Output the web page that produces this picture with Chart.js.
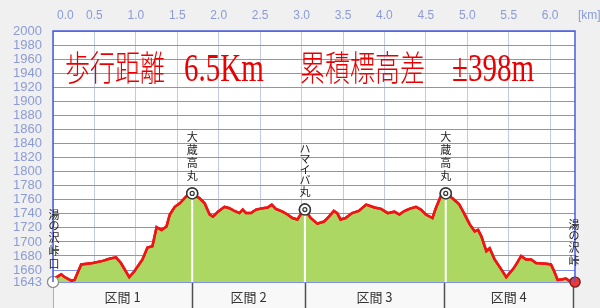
<!DOCTYPE html>
<html>
<head>
<meta charset="utf-8">
<script src="https://cdn.jsdelivr.net/npm/chart.js@4.4.0/dist/chart.umd.min.js"></script>
<style>
    html, body { margin: 0; padding: 0; background: #f0f0f0; }
    #wrap { width: 600px; height: 308px; }
</style>
</head>
<body>
<div id="wrap"><canvas id="profile" width="600" height="308"></canvas></div>
<script>
// elevation profile (km, m)
const distKm = [0.00, 0.06, 0.10, 0.14, 0.22, 0.26, 0.34, 0.48, 0.60, 0.68, 0.76, 0.82, 0.92, 0.98,
    1.08, 1.14, 1.20, 1.25, 1.31, 1.37, 1.41, 1.47, 1.53, 1.61, 1.68, 1.77, 1.83, 1.89, 1.93, 1.99,
    2.07, 2.13, 2.19, 2.25, 2.29, 2.33, 2.39, 2.45, 2.53, 2.59, 2.64, 2.69, 2.77, 2.83, 2.89, 2.95,
    3.01, 3.04, 3.11, 3.19, 3.27, 3.33, 3.39, 3.43, 3.47, 3.53, 3.61, 3.69, 3.78, 3.88, 3.96,
    4.04, 4.12, 4.18, 4.24, 4.30, 4.38, 4.44, 4.50, 4.58, 4.62, 4.68, 4.74, 4.82, 4.90, 4.96,
    5.03, 5.09, 5.13, 5.17, 5.23, 5.27, 5.33, 5.41, 5.47, 5.55, 5.59, 5.65, 5.71, 5.77, 5.83, 5.95,
    6.01, 6.05, 6.09, 6.15, 6.19, 6.24, 6.30];
const elevM = [1647, 1651, 1654, 1650, 1645, 1646, 1668, 1670, 1673, 1676, 1678, 1670, 1650, 1658,
    1675, 1692, 1694, 1721, 1717, 1722, 1739, 1750, 1755, 1765, 1769, 1762, 1755, 1739, 1736, 1743,
    1750, 1748, 1744, 1741, 1746, 1741, 1741, 1746, 1748, 1749, 1753, 1747, 1743, 1739, 1734, 1732,
    1743, 1746, 1734, 1726, 1729, 1736, 1744, 1741, 1732, 1734, 1741, 1744, 1753, 1749, 1747,
    1741, 1743, 1739, 1744, 1747, 1750, 1746, 1739, 1734, 1748, 1765, 1769, 1762, 1754, 1741,
    1725, 1715, 1717, 1708, 1687, 1691, 1675, 1661, 1650, 1661, 1668, 1680, 1675, 1675, 1670, 1669,
    1668, 1658, 1646, 1647, 1648, 1644, 1644];

const xTickKm = [0, 0.5, 1, 1.5, 2, 2.5, 3, 3.5, 4, 4.5, 5, 5.5, 6];
const xTickLabels = ['0.0', '0.5', '1.0', '1.5', '2.0', '2.5', '3.0', '3.5', '4.0', '4.5', '5.0', '5.5', '6.0'];
const yTickM = [1643, 1660, 1680, 1700, 1720, 1740, 1760, 1780, 1800, 1820, 1840, 1860, 1880,
    1900, 1920, 1940, 1960, 1980, 2000];

// summits along the route
const peakKm = [1.68, 3.04, 4.74];
const peakElev = [1769, 1746, 1769];
const peakNames = ['大蔵高丸', 'ハマイバ丸', '大蔵高丸'];

// start / goal
const endKm = [0, 6.3];
const endElev = [1643, 1643];
const endNames = ['湯の沢峠口', '湯の沢峠'];

const sectionEdgesKm = [0, 1.68, 3.04, 4.72, 6.28];
const sectionLabels = ['区間 1', '区間 2', '区間 3', '区間 4'];

const titleParts = ['歩行距離', '6.5Km', '累積標高差', '±398m'];

const BASE = yTickM[0];
const CJK = '"Noto Sans CJK JP", "Noto Sans CJK SC", sans-serif';

const decor = {
    id: 'decor',
    beforeDraw(chart) {
        const { ctx, chartArea: a, scales: { x } } = chart;
        ctx.save();
        ctx.fillStyle = '#f0f0f0';
        ctx.fillRect(0, 0, chart.width, chart.height);
        ctx.fillStyle = '#ffffff';
        ctx.fillRect(a.left, a.top, a.right - a.left, a.bottom - a.top);

        // section bar under the plot
        const barTop = a.bottom, barBottom = chart.height;
        ctx.fillStyle = '#f8f8f8';
        ctx.fillRect(a.left, barTop, a.right - a.left, barBottom - barTop);
        ctx.strokeStyle = '#9a9a9a';
        ctx.lineWidth = 1;
        ctx.beginPath();
        ctx.moveTo(a.left, barTop + 0.5);
        ctx.lineTo(a.right, barTop + 0.5);
        ctx.stroke();
        sectionEdgesKm.forEach((km, i) => {
            const px = Math.round(x.getPixelForValue(km)) + 0.5;
            ctx.strokeStyle = (i === 0) ? '#b0b0b0' : '#505050';
            ctx.lineWidth = (i === 0) ? 1 : 1.5;
            ctx.beginPath();
            ctx.moveTo(px, barTop);
            ctx.lineTo(px, barBottom);
            ctx.stroke();
        });
        ctx.fillStyle = '#333';
        ctx.font = '13px ' + CJK;
        ctx.textAlign = 'center';
        ctx.textBaseline = 'middle';
        sectionLabels.forEach((t, i) => {
            const mid = (x.getPixelForValue(sectionEdgesKm[i]) + x.getPixelForValue(sectionEdgesKm[i + 1])) / 2;
            ctx.fillText(t, mid, barTop + 15);
        });
        ctx.restore();
    },
    afterDraw(chart) {
        const { ctx, chartArea: a, scales: { x, y } } = chart;

        // grid is drawn over the fill (z:1), so put line + markers back on top
        const order = [];
        chart.data.datasets.forEach((ds, i) => { if (ds.label === 'stem') order.push(i); });
        order.push(0);
        chart.data.datasets.forEach((ds, i) => { if (ds.label !== 'stem' && i !== 0) order.push(i); });
        order.forEach(i => chart.getDatasetMeta(i).controller.draw());

        ctx.save();
        // plot frame
        ctx.strokeStyle = '#4a5ce0';
        ctx.lineWidth = 1.5;
        ctx.beginPath();
        ctx.moveTo(a.left, a.bottom);
        ctx.lineTo(a.left, a.top);
        ctx.lineTo(a.right, a.top);
        ctx.lineTo(a.right, a.bottom);
        ctx.stroke();

        // km labels on top
        ctx.fillStyle = '#8b9bd6';
        ctx.font = '12px "Liberation Sans", sans-serif';
        ctx.textBaseline = 'middle';
        xTickKm.forEach((v, i) => {
            const px = x.getPixelForValue(v);
            if (i === 0) {
                ctx.textAlign = 'left';
                ctx.fillText(xTickLabels[i], px + 4, 16);
            } else {
                ctx.textAlign = 'center';
                ctx.fillText(xTickLabels[i], px, 16);
            }
        });
        ctx.textAlign = 'left';
        ctx.fillText('[km]', a.right + 3, 16);

        // vertical place names
        ctx.fillStyle = '#222';
        ctx.font = '11px ' + CJK;
        ctx.textAlign = 'center';
        ctx.textBaseline = 'middle';
        const stack = (name, px, bottomY) => {
            const chars = Array.from(name);
            const steps = chars.map(c => /[\u30a0-\u30ff\u3040-\u309f]/.test(c) ? 10.5 : 13);
            let cy = bottomY;
            for (let k = chars.length - 1; k >= 0; k--) {
                ctx.fillText(chars[k], px, cy);
                if (k > 0) cy -= (steps[k] + steps[k - 1]) / 2;
            }
        };
        peakKm.forEach((km, i) => {
            stack(peakNames[i], x.getPixelForValue(km), y.getPixelForValue(peakElev[i]) - 18);
        });
        stack(endNames[0], x.getPixelForValue(endKm[0]) + 1, y.getPixelForValue(endElev[0]) - 18);
        stack(endNames[1], x.getPixelForValue(endKm[1]) - 1, y.getPixelForValue(endElev[1]) - 21);

        // big red caption
        ctx.fillStyle = '#e80000';
        ctx.textAlign = 'left';
        ctx.textBaseline = 'alphabetic';
        ctx.translate(0, 81);
        ctx.scale(1, 1.4);
        const titleX = [65, 184, 300, 452];
        titleParts.forEach((t, i) => {
            ctx.font = (i % 2 === 0) ? '300 25px ' + CJK : '29px "Liberation Serif", serif';
            ctx.fillText(t, titleX[i], 0);
        });
        ctx.restore();
    }
};

const profilePts = distKm.map((km, i) => ({ x: km, y: elevM[i] }));

const stems = peakKm.map((km, i) => ({
    label: 'stem',
    data: [{ x: km, y: peakElev[i] }, { x: km, y: BASE }],
    borderColor: '#ffffff',
    borderWidth: 2,
    pointRadius: 0,
    fill: false
}));

new Chart(document.getElementById('profile'), {
    type: 'line',
    data: {
        datasets: [
            {
                label: 'profile',
                data: profilePts,
                borderColor: '#f01414',
                borderWidth: 2.5,
                backgroundColor: '#acd763',
                fill: 'start',
                pointRadius: 0,
                tension: 0
            },
            ...stems,
            {
                label: 'peakOuter',
                data: peakKm.map((km, i) => ({ x: km, y: peakElev[i] })),
                showLine: false,
                pointRadius: 5.5,
                pointBackgroundColor: '#ffffff',
                pointBorderColor: '#333',
                pointBorderWidth: 1.5,
                clip: false
            },
            {
                label: 'peakInner',
                data: peakKm.map((km, i) => ({ x: km, y: peakElev[i] })),
                showLine: false,
                pointRadius: 2,
                pointBackgroundColor: '#ffffff',
                pointBorderColor: '#333',
                pointBorderWidth: 1.2,
                clip: false
            },
            {
                label: 'start',
                data: [{ x: endKm[0], y: endElev[0] }],
                showLine: false,
                pointRadius: 5.5,
                pointBackgroundColor: '#ffffff',
                pointBorderColor: '#8a8a8a',
                pointBorderWidth: 1.2,
                clip: false
            },
            {
                label: 'goal',
                data: [{ x: endKm[1], y: endElev[1] }],
                showLine: false,
                pointRadius: 5,
                pointBackgroundColor: '#e83a3a',
                pointBorderColor: '#7a2020',
                pointBorderWidth: 1.2,
                clip: false
            }
        ]
    },
    options: {
        responsive: false,
        animation: false,
        events: [],
        layout: { padding: { left: 0, right: 25, top: 31, bottom: 26 } },
        plugins: {
            legend: { display: false },
            tooltip: { enabled: false }
        },
        scales: {
            x: {
                type: 'linear',
                position: 'top',
                min: 0,
                max: 6.3,
                z: 1,
                afterBuildTicks: (s) => { s.ticks = xTickKm.map(v => ({ value: v })); },
                ticks: { display: false },
                grid: { color: '#c2cae6', drawTicks: false },
                border: { display: false }
            },
            y: {
                min: BASE,
                max: 2000,
                z: 1,
                afterBuildTicks: (s) => { s.ticks = yTickM.map(v => ({ value: v })); },
                afterFit: (s) => { s.width = 53; },
                ticks: {
                    autoSkip: false,
                    color: '#8b9bd6',
                    font: { family: 'Liberation Sans', size: 13 },
                    padding: 11,
                    callback: (v) => String(v)
                },
                grid: { color: '#8292e2', drawTicks: false },
                border: { display: false }
            }
        }
    },
    plugins: [decor]
});
</script>
</body>
</html>
